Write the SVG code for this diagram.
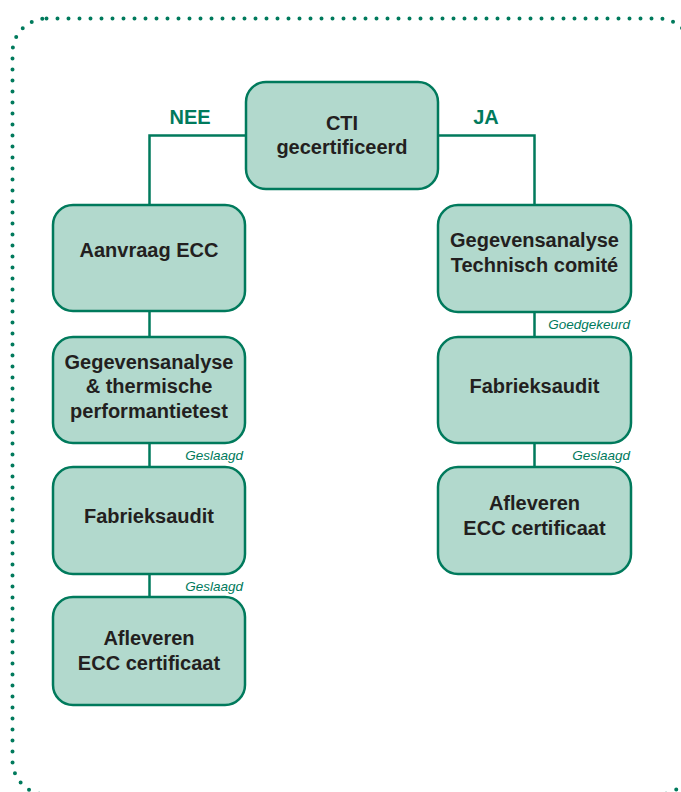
<svg xmlns="http://www.w3.org/2000/svg" width="681" height="792" viewBox="0 0 681 792">
<style>
.frame{fill:none;stroke:#007a5c;stroke-width:4;stroke-linecap:round;stroke-dasharray:0 11}
.box{fill:#b2d9cd;stroke:#007a5c;stroke-width:2.5}
.t{font-family:"Liberation Sans",Arial,sans-serif;font-weight:bold;font-size:20px;fill:#231f20;text-anchor:middle}
.c{fill:none;stroke:#007a5c;stroke-width:2.5}
.lb{font-family:"Liberation Sans",Arial,sans-serif;font-weight:bold;font-size:20px;fill:#007a5c;text-anchor:middle}
.it{font-family:"Liberation Sans",Arial,sans-serif;font-style:italic;font-size:13.5px;fill:#007a5c;text-anchor:end}
</style>
<rect class="frame" x="12.5" y="18.5" width="680" height="776" rx="34"/>
<g id="connectors">
<path class="c" d="M246 135.5H149.5V205"/>
<path class="c" d="M438 135.5H534.5V205"/>
<path class="c" d="M149.5 311V337"/>
<path class="c" d="M149.5 443V467"/>
<path class="c" d="M149.5 574V597"/>
<path class="c" d="M534.5 312V337"/>
<path class="c" d="M534.5 443V467"/>
<text class="lb" x="190" y="124">NEE</text>
<text class="lb" x="486" y="124">JA</text>
<text class="it" x="243" y="460">Geslaagd</text>
<text class="it" x="243" y="591">Geslaagd</text>
<text class="it" x="630" y="329">Goedgekeurd</text>
<text class="it" x="630" y="460">Geslaagd</text>
</g>
<g id="cti">
<rect class="box" x="246" y="82" width="192" height="107" rx="20"/>
<text class="t" x="342" y="130">CTI</text>
<text class="t" x="342" y="154">gecertificeerd</text>
</g>
<g id="aanvraag">
<rect class="box" x="53" y="205" width="192" height="106" rx="20"/>
<text class="t" x="149" y="257">Aanvraag ECC</text>
</g>
<g id="gegevens-left">
<rect class="box" x="53" y="337" width="192" height="106" rx="20"/>
<text class="t" x="149" y="369">Gegevensanalyse</text>
<text class="t" x="149" y="393">&amp; thermische</text>
<text class="t" x="149" y="418">performantietest</text>
</g>
<g id="fabriek-left">
<rect class="box" x="53" y="467" width="192" height="107" rx="20"/>
<text class="t" x="149" y="523">Fabrieksaudit</text>
</g>
<g id="afleveren-left">
<rect class="box" x="53" y="597" width="192" height="108" rx="20"/>
<text class="t" x="149" y="645">Afleveren</text>
<text class="t" x="149" y="670">ECC certificaat</text>
</g>
<g id="gegevens-right">
<rect class="box" x="438" y="205" width="193" height="107" rx="20"/>
<text class="t" x="534.5" y="247">Gegevensanalyse</text>
<text class="t" x="534.5" y="272">Technisch comité</text>
</g>
<g id="fabriek-right">
<rect class="box" x="438" y="337" width="193" height="106" rx="20"/>
<text class="t" x="534.5" y="393">Fabrieksaudit</text>
</g>
<g id="afleveren-right">
<rect class="box" x="438" y="467" width="193" height="107" rx="20"/>
<text class="t" x="534.5" y="510">Afleveren</text>
<text class="t" x="534.5" y="535">ECC certificaat</text>
</g>
</svg>
